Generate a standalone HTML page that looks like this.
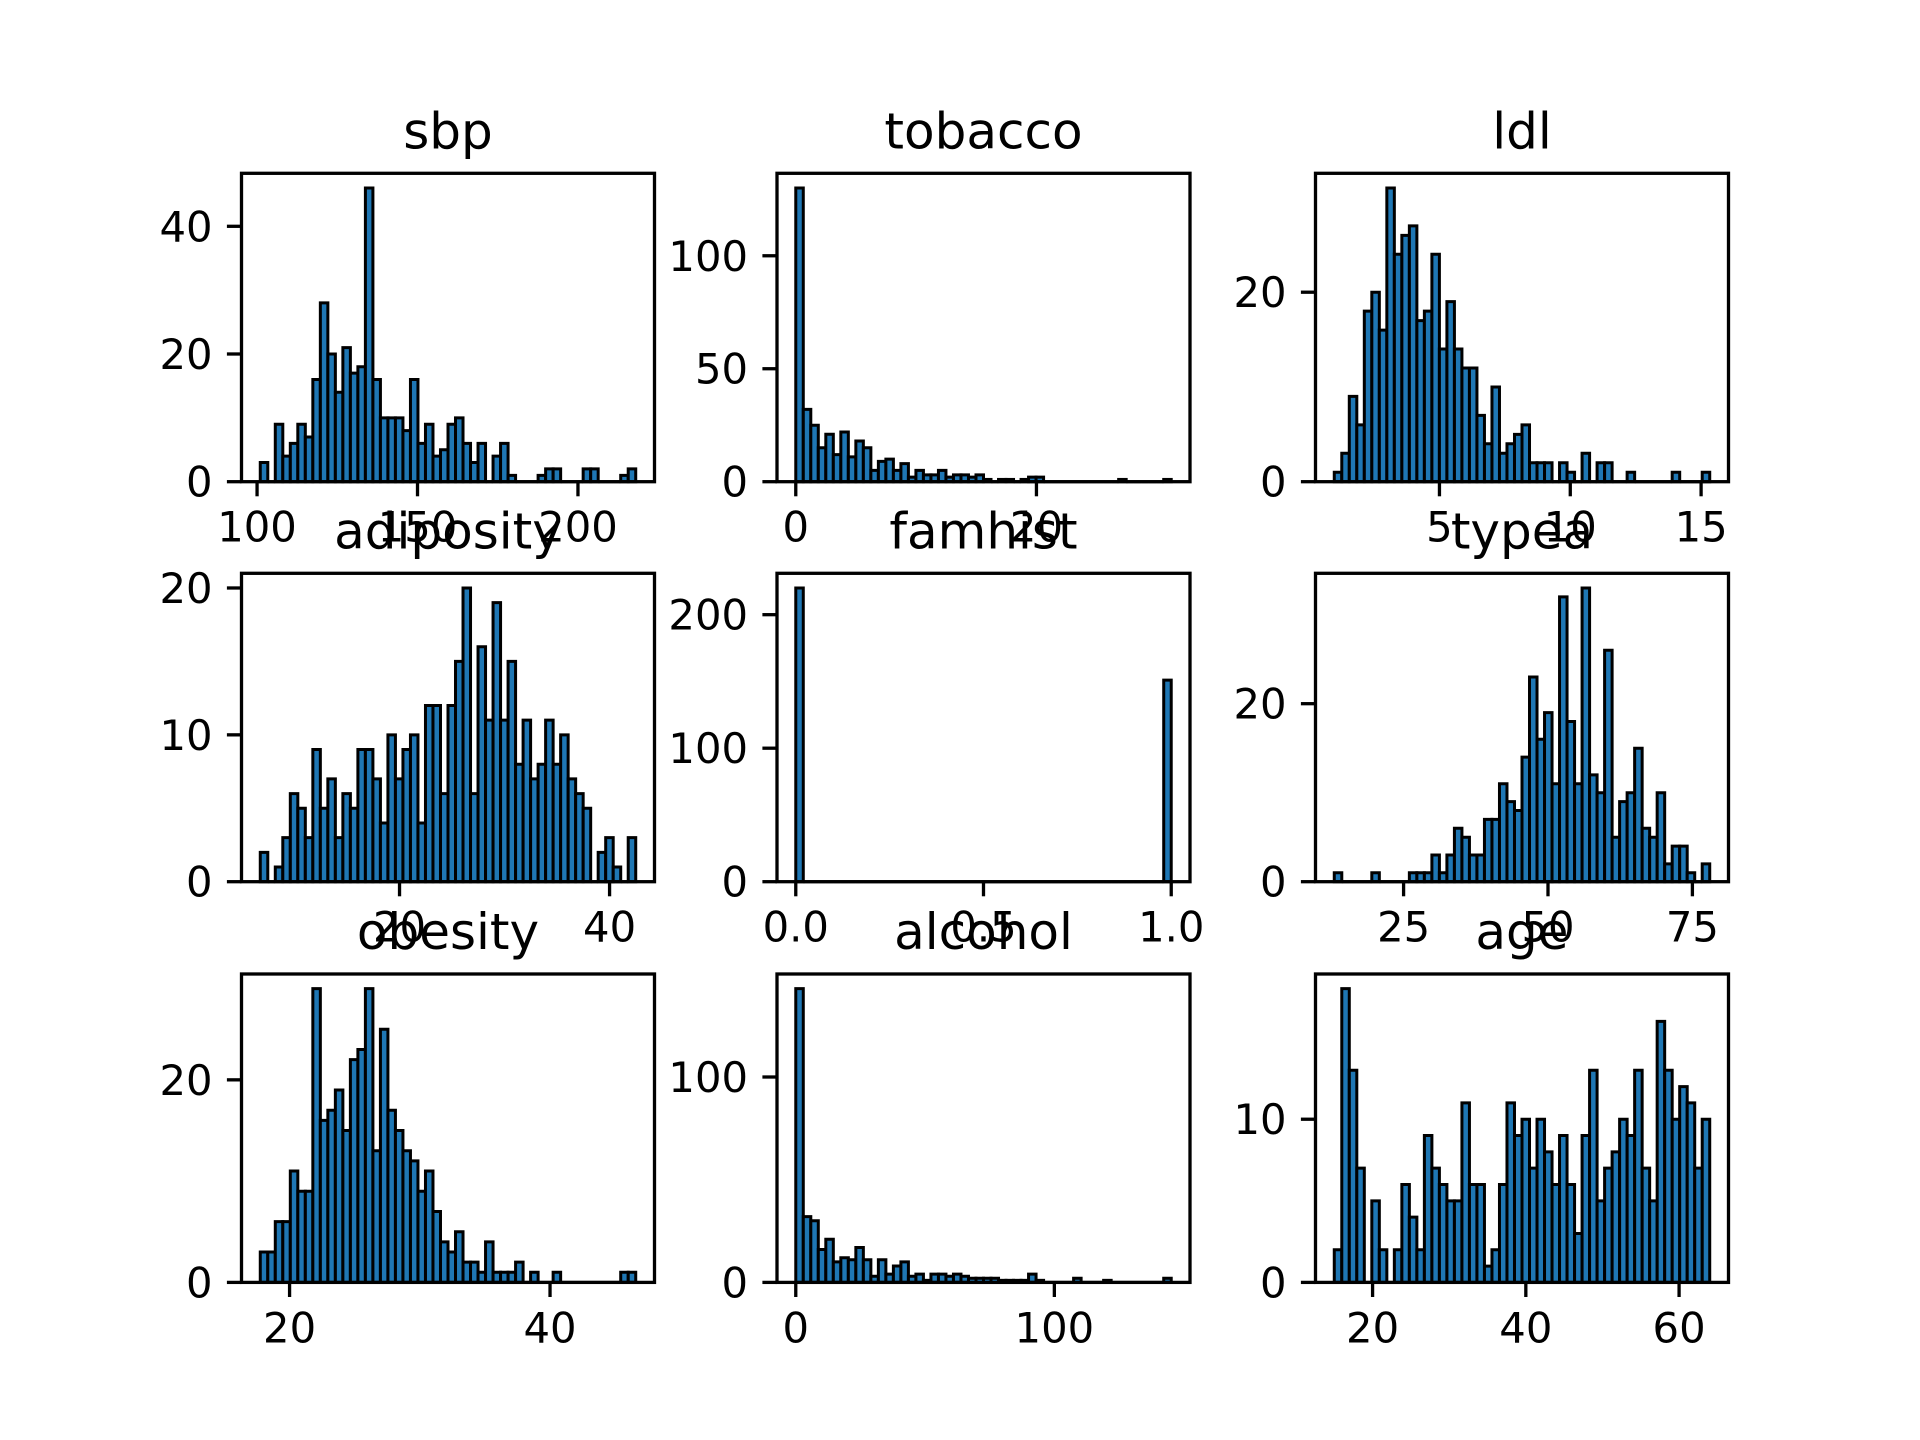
<!DOCTYPE html>
<html>
<head>
<meta charset="utf-8">
<style>
  html, body { margin: 0; padding: 0; background: #ffffff; }
  svg { display: block; }
  text { font-family: "DejaVu Sans", "Liberation Sans", sans-serif; fill: #000; }
</style>
</head>
<body>
<svg id="fig" width="1920" height="1440" viewBox="0 0 1920 1440" xmlns="http://www.w3.org/2000/svg"></svg>
<script>
// ---- data: per-panel titles, bin ranges, counts, ticks ----
const titles = ["sbp", "tobacco", "ldl", "adiposity", "famhist", "typea", "obesity", "alcohol", "age"];
const binMin = [101, 0, 0.98, 6.74, 0, 13, 17.75, 0, 15];
const binMax = [218, 31.2, 15.33, 42.49, 1, 78, 46.58, 145.2, 64];

const sbpCounts = [3,0,9,4,6,9,7,16,28,20,14,21,17,18,46,16,10,10,10,8,16,6,9,4,5,9,10,6,3,6,0,4,6,1,0,0,0,1,2,2,0,0,0,2,2,0,0,0,1,2];
const tobaccoCounts = [130,32,25,15,21,12,22,11,18,15,5,9,10,5,8,2,5,3,3,5,2,3,3,2,3,1,0,1,1,0,1,2,2,0,0,0,0,0,0,0,0,0,0,1,0,0,0,0,0,1];
const ldlCounts = [1,3,9,6,18,20,16,31,24,26,27,17,18,24,14,19,14,12,12,7,4,10,3,4,5,6,2,2,2,0,2,1,0,3,0,2,2,0,0,1,0,0,0,0,0,1,0,0,0,1];
const adiposityCounts = [2,0,1,3,6,5,3,9,5,7,3,6,5,9,9,7,4,10,7,9,10,4,12,12,6,12,15,20,6,16,11,19,11,15,8,11,7,8,11,8,10,7,6,5,0,2,3,1,0,3];
const famhistCounts = [220,0,0,0,0,0,0,0,0,0,0,0,0,0,0,0,0,0,0,0,0,0,0,0,0,0,0,0,0,0,0,0,0,0,0,0,0,0,0,0,0,0,0,0,0,0,0,0,0,151];
const typeaCounts = [1,0,0,0,0,1,0,0,0,0,1,1,1,3,1,3,6,5,3,3,7,7,11,9,8,14,23,16,19,11,32,18,11,33,12,10,26,5,9,10,15,6,5,10,2,4,4,1,0,2];
const obesityCounts = [3,3,6,6,11,9,9,29,16,17,19,15,22,23,29,13,25,17,15,13,12,9,11,7,4,3,5,2,2,1,4,1,1,1,2,0,1,0,0,1,0,0,0,0,0,0,0,0,1,1];
const alcoholCounts = [143,32,30,16,21,10,12,11,17,11,3,11,4,8,10,3,4,1,4,4,3,4,3,2,2,2,2,1,1,1,1,4,1,0,0,0,0,2,0,0,0,1,0,0,0,0,0,0,0,2];
const ageCounts = [2,18,13,7,0,5,2,0,2,6,4,2,9,7,6,5,5,11,6,6,1,2,6,11,9,10,7,10,8,6,9,6,3,9,13,5,7,8,10,9,13,7,5,16,13,10,12,11,7,10];
const allCounts = [sbpCounts, tobaccoCounts, ldlCounts, adiposityCounts, famhistCounts, typeaCounts, obesityCounts, alcoholCounts, ageCounts];

const xTickValues = [[100,150,200],[0,20],[5,10,15],[20,40],[0,0.5,1],[25,50,75],[20,40],[0,100],[20,40,60]];
const xTickLabels = [["100","150","200"],["0","20"],["5","10","15"],["20","40"],["0.0","0.5","1.0"],["25","50","75"],["20","40"],["0","100"],["20","40","60"]];
const yTickValues = [[0,20,40],[0,50,100],[0,20],[0,10,20],[0,100,200],[0,20],[0,20],[0,100],[0,10]];

// ---- layout ----
const colLeft = [241.5, 777, 1315.5];
const rowTop = [173.3, 573.3, 974];
const AW = 413, AH = 308.4;
const NS = "http://www.w3.org/2000/svg";
const svg = document.getElementById("fig");

function mk(tag, attrs, parent) {
  const el = document.createElementNS(NS, tag);
  for (const k in attrs) el.setAttribute(k, attrs[k]);
  parent.appendChild(el);
  return el;
}

for (let p = 0; p < 9; p++) {
  const L = colLeft[p % 3], T = rowTop[Math.floor(p / 3)], B = T + AH, R = L + AW;
  const counts = allCounts[p];
  const lo = binMin[p], hi = binMax[p], span = hi - lo;
  const xmin = lo - 0.05 * span, xmax = hi + 0.05 * span;
  const ymax = Math.max(...counts) * 1.05;
  const sx = v => L + (v - xmin) / (xmax - xmin) * AW;
  const sy = v => B - v / ymax * AH;

  const g = mk("g", {}, svg);
  
  

  // bars
  const nb = counts.length, bw = span / nb;
  for (let i = 0; i < nb; i++) {
    const x0 = sx(lo + i * bw), x1 = sx(lo + (i + 1) * bw), y1 = sy(counts[i]);
    const bar = mk("path", {
      d: `M${x0},${B} H${x1} V${y1} H${x0} Z`,
      fill: "#1f77b4", stroke: "#000", "stroke-width": 3, "stroke-linejoin": "miter"
    }, g);
    
    
  }

  // frame
  const frame = mk("rect", { x: L, y: T, width: AW, height: AH, fill: "none", stroke: "#000", "stroke-width": 3.3 }, g);
  
  

  // x ticks
  xTickValues[p].forEach((v, j) => {
    const x = sx(v);
    const tk = mk("line", { x1: x, x2: x, y1: B, y2: B + 14.6, stroke: "#000", "stroke-width": 3.3 }, g);
    
    
    const tx = mk("text", { x: x, y: B + 29 + 31, "font-size": 41.7, "text-anchor": "middle" }, g);
    tx.textContent = xTickLabels[p][j];
    
    
  });

  // y ticks
  yTickValues[p].forEach(v => {
    const y = sy(v);
    const tk = mk("line", { x1: L - 14.6, x2: L, y1: y, y2: y, stroke: "#000", "stroke-width": 3.3 }, g);
    
    
    const tx = mk("text", { x: L - 29, y: y + 15, "font-size": 41.7, "text-anchor": "end" }, g);
    tx.textContent = String(v);
    
    
  });

  // title
  const tt = mk("text", { x: L + AW / 2, y: T - 25, "font-size": 50, "text-anchor": "middle" }, g);
  tt.textContent = titles[p];
  
  
}
</script>
</body>
</html>
